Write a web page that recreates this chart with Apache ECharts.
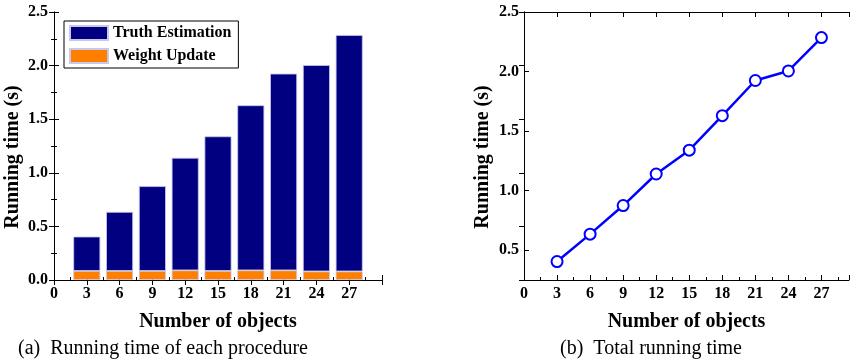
<!DOCTYPE html>
<html>
<head>
<meta charset="utf-8">
<script src="https://cdn.jsdelivr.net/npm/echarts@6/dist/echarts.min.js"></script>
<style>
  html, body { margin: 0; padding: 0; background: #fff; }
  #chart { width: 850px; height: 362px; }
</style>
</head>
<body>
<div id="chart"></div>
<script>
// Number of objects on the x axis
const objects = [3, 6, 9, 12, 15, 18, 21, 24, 27];
// Time spent in each procedure (s)
const weightUpdate = [0.085, 0.085, 0.085, 0.09, 0.085, 0.09, 0.09, 0.08, 0.08];
const truthEstimation = [0.32, 0.55, 0.79, 1.05, 1.255, 1.54, 1.835, 1.925, 2.205];
// Total running time (s)
const totalTime = [0.405, 0.635, 0.875, 1.14, 1.34, 1.63, 1.925, 2.005, 2.285];
// Tick labels
const xTicks = [0, 3, 6, 9, 12, 15, 18, 21, 24, 27];

const FONT = "'Liberation Serif', 'Times New Roman', serif";
const tickLabel = { color: '#000', fontFamily: FONT, fontWeight: 'bold', fontSize: 16 };

// Rows are [value, objects] so the stacked dimension is the time value
function rows(xs, ys) { return xs.map((x, i) => [ys[i], x]); }

function mainX(gridIndex, max) {
  return {
    type: 'value', gridIndex, min: 0, max, interval: 3,
    axisLine: { show: true, lineStyle: { color: '#000', width: 1 } },
    axisTick: { show: true, inside: true, length: 5, lineStyle: { color: '#000' } },
    minorTick: { show: true, splitNumber: 2, length: 3, lineStyle: { color: '#000' } },
    splitLine: { show: false },
    axisLabel: Object.assign({ margin: 6, showMaxLabel: false,
      formatter: v => (xTicks.indexOf(v) >= 0 ? String(v) : '') }, tickLabel),
    name: 'Number of objects', nameLocation: 'middle', nameGap: 32,
    nameTextStyle: { color: '#000', fontFamily: FONT, fontWeight: 'bold', fontSize: 20 }
  };
}
function mirrorX(gridIndex, max) {
  return {
    type: 'value', gridIndex, position: 'top', min: 0, max, interval: 3,
    axisLine: { show: true, lineStyle: { color: '#000', width: 1 } },
    axisTick: { show: true, inside: true, length: 5, lineStyle: { color: '#000' } },
    axisLabel: { show: false }, splitLine: { show: false }
  };
}
function yName(gap) {
  return {
    name: 'Running time (s)', nameLocation: 'middle', nameGap: gap,
    // right padding nudges the rotated title a little lower
    nameTextStyle: { color: '#000', fontFamily: FONT, fontWeight: 'bold', fontSize: 20,
      padding: [0, 22, 0, 0] }
  };
}

const option = {
  animation: false,
  backgroundColor: '#fff',
  grid: [
    { left: 54, top: 12, width: 328, height: 268 },
    { left: 524, top: 12, width: 325, height: 268 }
  ],
  legend: {
    left: 64, top: 21, orient: 'vertical',
    data: ['Truth Estimation', 'Weight Update'],
    icon: 'rect', itemWidth: 38, itemHeight: 14, itemGap: 7,
    padding: [4, 7, 4, 5],
    borderColor: '#000', borderWidth: 1,
    textStyle: { color: '#000', fontFamily: FONT, fontWeight: 'bold', fontSize: 16 }
  },
  xAxis: [
    mainX(0, 30), mirrorX(0, 30),
    mainX(1, 29.5), mirrorX(1, 29.5)
  ],
  yAxis: [
    Object.assign({
      type: 'value', gridIndex: 0, min: 0, max: 2.5, interval: 0.5,
      axisLine: { show: true, lineStyle: { color: '#000', width: 1 } },
      axisTick: { show: true, inside: true, length: 5, lineStyle: { color: '#000' } },
      minorTick: { show: true, splitNumber: 2, length: 3, lineStyle: { color: '#000' } },
      splitLine: { show: false },
      axisLabel: Object.assign({ margin: 6, formatter: v => v.toFixed(1) }, tickLabel)
    }, yName(31)),
    {
      type: 'value', gridIndex: 0, position: 'right', min: 0, max: 2.5, interval: 0.5,
      axisLine: { show: true, lineStyle: { color: '#000', width: 1 } },
      axisTick: { show: true, inside: true, length: 5, lineStyle: { color: '#000' } },
      minorTick: { show: true, splitNumber: 2, length: 3, lineStyle: { color: '#000' } },
      axisLabel: { show: false }, splitLine: { show: false }
    },
    Object.assign({
      type: 'value', gridIndex: 1, min: 0.25, max: 2.5, splitNumber: 5,
      axisLine: { show: true, lineStyle: { color: '#000', width: 1 } },
      axisTick: { show: true, inside: true, length: 5, lineStyle: { color: '#000' } },
      minorTick: { show: false },
      splitLine: { show: false },
      axisLabel: Object.assign({ margin: 5, showMinLabel: false,
        formatter: v => (Math.abs(v * 2 - Math.round(v * 2)) < 1e-6 ? v.toFixed(1) : '') }, tickLabel)
    }, yName(31)),
    {
      type: 'value', gridIndex: 1, position: 'right', min: 0, max: 2.5, interval: 0.5,
      axisLine: { show: true, lineStyle: { color: '#000', width: 1 } },
      axisTick: { show: true, inside: true, length: 5, lineStyle: { color: '#000' } },
      axisLabel: { show: false }, splitLine: { show: false }
    }
  ],
  series: [
    {
      name: 'Weight Update', type: 'bar', stack: 'time',
      xAxisIndex: 0, yAxisIndex: 0, barWidth: 27,
      encode: { x: 1, y: 0 },
      itemStyle: { color: '#ff8000', borderColor: '#c8c8ec', borderWidth: 0.8 },
      data: rows(objects, weightUpdate)
    },
    {
      name: 'Truth Estimation', type: 'bar', stack: 'time',
      xAxisIndex: 0, yAxisIndex: 0, barWidth: 27,
      encode: { x: 1, y: 0 },
      itemStyle: { color: '#000080', borderColor: '#c8c8ec', borderWidth: 0.8 },
      data: rows(objects, truthEstimation)
    },
    {
      name: 'Total', type: 'line',
      xAxisIndex: 2, yAxisIndex: 2,
      encode: { x: 1, y: 0 },
      symbol: 'emptyCircle', symbolSize: 11,
      lineStyle: { color: '#0000ff', width: 2.5 },
      itemStyle: { color: '#0000ff', borderColor: '#0000ff', borderWidth: 2.5 },
      data: rows(objects, totalTime)
    }
  ],
  graphic: [
    { type: 'text', x: 163, y: 349,
      style: { text: '(a)  Running time of each procedure', fill: '#000',
        font: '20px ' + FONT, textAlign: 'center', textVerticalAlign: 'middle' } },
    { type: 'text', x: 651, y: 349,
      style: { text: '(b)  Total running time', fill: '#000',
        font: '20px ' + FONT, textAlign: 'center', textVerticalAlign: 'middle' } }
  ]
};

const chart = echarts.init(document.getElementById('chart'), null, { renderer: 'canvas' });
chart.setOption(option);
</script>
</body>
</html>
